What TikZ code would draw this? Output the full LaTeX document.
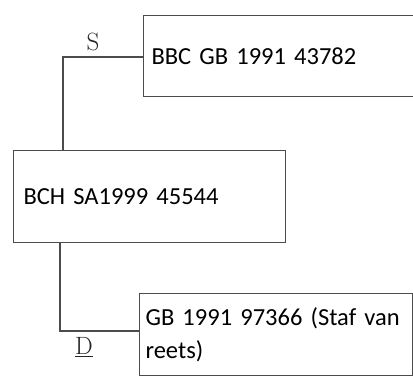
\documentclass[tikz,border=0pt]{standalone}
\usepackage{fontspec}
\newfontfamily\calibri{Carlito}[WordSpace=0.75]
\begin{document}
\begin{tikzpicture}[x=1pt,y=-1pt,
  line/.style={draw=black!70, line width=1.1pt},
  box/.style={line, rectangle, anchor=north west, inner ysep=0pt, align=left,
    font=\calibri\fontsize{24.5}{33}\selectfont},
  lbl/.style={font=\fontsize{25}{25}\selectfont, text=black!85, inner sep=0pt}]
\useasboundingbox (0,0) rectangle (413,377);
\node[box, minimum width=272pt, minimum height=81pt, text width=256pt, inner xsep=8pt] (bbc) at (143,15) {BBC GB 1991 43782};
\node[box, minimum width=272pt, minimum height=92pt, text width=252pt, inner xsep=10pt] (bch) at (13,150) {BCH SA1999 45544};
\node[box, minimum width=273pt, minimum height=82pt, text width=261pt, inner xsep=6pt] (gb) at (139,293) {GB 1991 97366 (Staf van\\reets)};
\coordinate (s) at (63,57);
\coordinate (d) at (60,331);
\draw[line] (bch.north west -| s) -- (s) -- (s -| bbc.west);
\draw[line] (bch.south west -| d) -- (d) -- (d -| gb.west);
\node[lbl] (slbl) at (93,42) {S};
\node[lbl] (dlbl) at (84,347) {\underline{D}};
\end{tikzpicture}
\end{document}
